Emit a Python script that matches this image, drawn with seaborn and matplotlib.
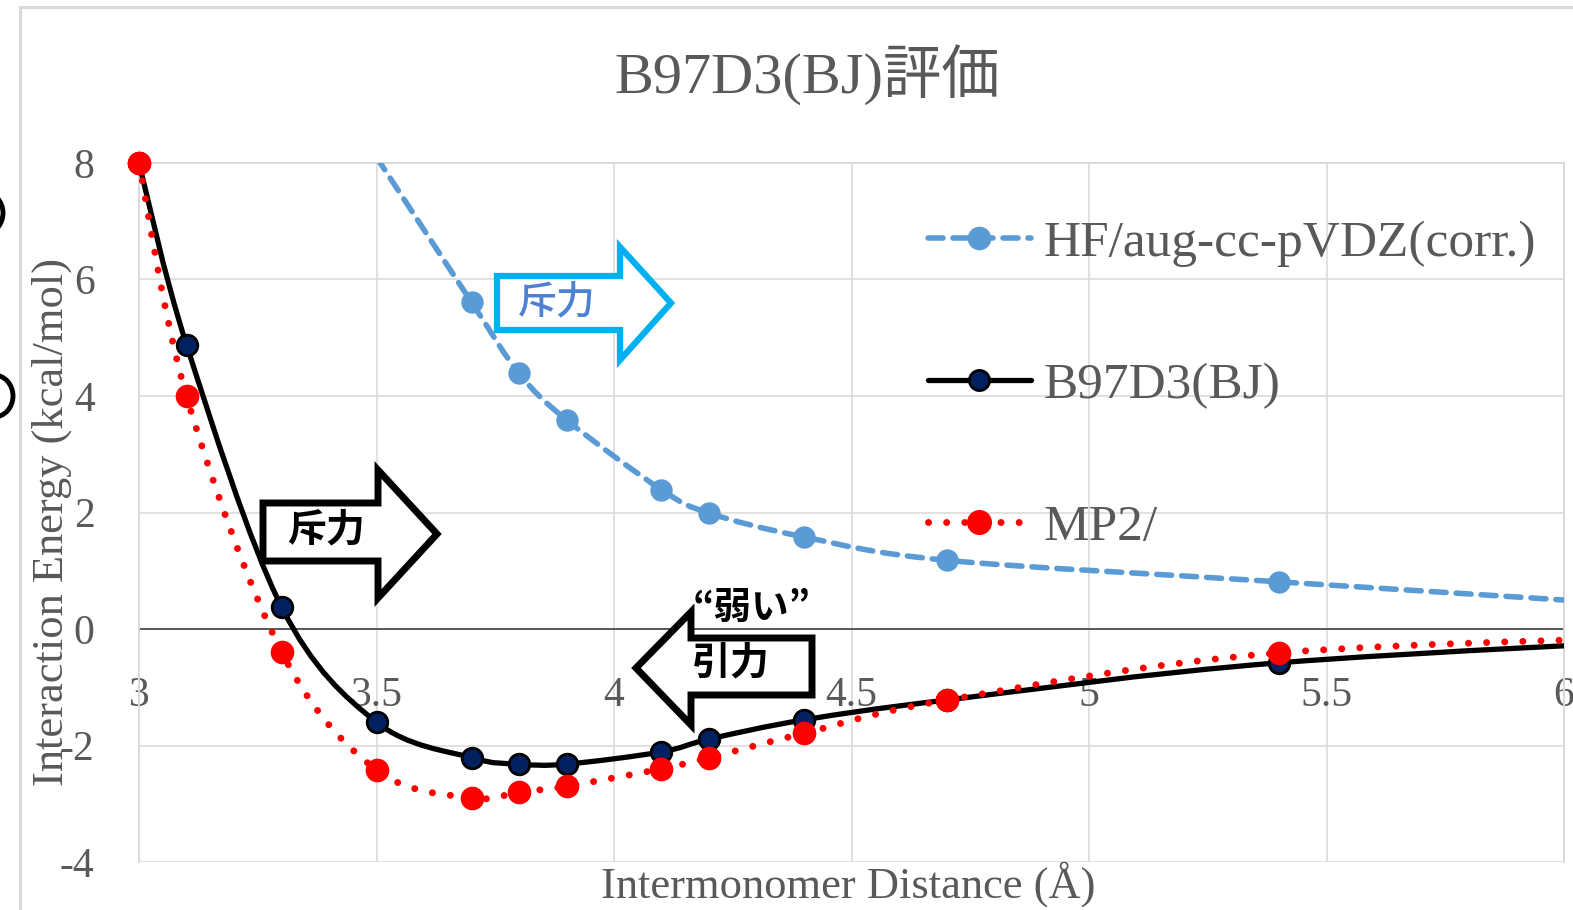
import numpy as np
import pandas as pd
import matplotlib
matplotlib.use("Agg")
import matplotlib.pyplot as plt
from matplotlib.path import Path
from matplotlib.patches import PathPatch, Polygon, Rectangle, Ellipse
from matplotlib.lines import Line2D
from matplotlib.ticker import FuncFormatter
import seaborn as sns

# ---- data -------------------------------------------------------------
title = "B97D3(BJ)評価"
x_label = "Intermonomer Distance (Å)"
y_label = "Interaction Energy (kcal/mol)"
series_names = ["HF/aug-cc-pVDZ(corr.)", "B97D3(BJ)", "MP2/"]

distance_hf = [3.5, 3.7, 3.8, 3.9, 4.1, 4.2, 4.4, 4.7, 5.4, 6.4]
energy_hf = [8.1, 5.61, 4.39, 3.59, 2.39, 1.99, 1.58, 1.18, 0.81, 0.29]

distance = [3.0, 3.1, 3.3, 3.5, 3.7, 3.8, 3.9, 4.1, 4.2, 4.4, 4.7, 5.4, 6.4]
energy_b97d3 = [8.0, 4.88, 0.38, -1.60, -2.21, -2.32, -2.32, -2.11, -1.89, -1.56, -1.22, -0.58, -0.12]
energy_mp2 = [8.0, 4.0, -0.39, -2.42, -2.90, -2.80, -2.70, -2.40, -2.21, -1.79, -1.22, -0.41, -0.10]

x_ticks = [3.0, 3.5, 4.0, 4.5, 5.0, 5.5, 6.0]
y_ticks = [-4, -2, 0, 2, 4, 6, 8]

# ---- style ------------------------------------------------------------
W, H = 1573, 910
sns.set_theme(style="whitegrid")
plt.rcParams["font.family"] = ["Liberation Serif", "Noto Sans CJK JP"]
plt.rcParams["axes.unicode_minus"] = False

TEXT = "#595959"
GRID = "#d9d9d9"
BLUE = "#5B9BD5"
NAVY = "#002060"
RED = "#FF0000"

fig = plt.figure(figsize=(W / 100, H / 100), dpi=100)
fig.patch.set_facecolor("white")

def px(x, y):
    """pixel position -> figure fraction"""
    return (x / W, 1 - y / H)

ax_l, ax_r, ax_t, ax_b = 139, 1564, 163, 862
ax = fig.add_axes([ax_l / W, 1 - ax_b / H, (ax_r - ax_l) / W, (ax_b - ax_t) / H])
ax.set_facecolor("white")
ax.set_xlim(3, 6)
ax.set_ylim(-4, 8)
ax.set_xticks(x_ticks)
ax.set_yticks(y_ticks)
fmt = FuncFormatter(lambda v, p: f"{v:g}")
ax.xaxis.set_major_formatter(fmt)
ax.yaxis.set_major_formatter(fmt)
ax.grid(True, color=GRID, lw=1.1)
ax.set_axisbelow(True)
for s in ("left", "right", "top"):
    ax.spines[s].set_color(GRID)
    ax.spines[s].set_linewidth(1.4)
ax.spines["bottom"].set_position(("data", 0))
ax.spines["bottom"].set_color("#404040")
ax.spines["bottom"].set_linewidth(1.2)
ax.spines["bottom"].set_zorder(1.5)
ax.tick_params(axis="x", length=0, pad=34, labelsize=30, labelcolor=TEXT)
ax.tick_params(axis="y", length=0, pad=32, labelsize=30, labelcolor=TEXT)


def smooth_path(xs, ys):
    """Smoothed polyline through the points as cubic Bezier segments."""
    pts = np.column_stack([xs, ys]).astype(float)
    n = len(pts)
    verts = [pts[0]]
    codes = [Path.MOVETO]
    for i in range(n - 1):
        p0 = pts[i - 1] if i > 0 else pts[i]
        p1, p2 = pts[i], pts[i + 1]
        p3 = pts[i + 2] if i + 2 < n else pts[i + 1]
        verts += [p1 + (p2 - p0) / 6, p2 - (p3 - p1) / 6, p2]
        codes += [Path.CURVE4] * 3
    return Path(verts, codes)


def visible(xs, ys):
    d = pd.DataFrame({"x": xs, "y": ys})
    return d[(d.x >= 3) & (d.x <= 6) & (d.y >= -4) & (d.y <= 8)]


HF_LS = (0, (2.7, 1.8))
MP2_LS = (0, (0.01, 2.6))

# HF (dashed blue)
ax.add_patch(PathPatch(smooth_path(distance_hf, energy_hf), fill=False,
                       edgecolor=BLUE, lw=4.0, linestyle=HF_LS,
                       capstyle="round", joinstyle="round", zorder=3))
d = visible(distance_hf, energy_hf)
sns.scatterplot(data=d, x="x", y="y", ax=ax, s=260, color=BLUE,
                edgecolor=BLUE, linewidth=0, zorder=4, clip_on=False, legend=False)

# B97D3(BJ) (solid black, navy markers)
ax.add_patch(PathPatch(smooth_path(distance, energy_b97d3), fill=False,
                       edgecolor="black", lw=3.8, capstyle="round",
                       joinstyle="round", zorder=5))
d = visible(distance, energy_b97d3)
sns.scatterplot(data=d, x="x", y="y", ax=ax, s=220, color=NAVY,
                edgecolor="black", linewidth=2.0, zorder=6, clip_on=False, legend=False)

# MP2 (dotted red)
ax.add_patch(PathPatch(smooth_path(distance, energy_mp2), fill=False,
                       edgecolor=RED, lw=5.0, linestyle=MP2_LS,
                       capstyle="round", joinstyle="round", zorder=7))
d = visible(distance, energy_mp2)
sns.scatterplot(data=d, x="x", y="y", ax=ax, s=290, color=RED,
                edgecolor=RED, linewidth=0, zorder=8, clip_on=False, legend=False)

ax.set_xlabel(x_label, fontsize=32, color=TEXT, va="center")
ax.xaxis.set_label_coords((848 - ax_l) / (ax_r - ax_l), (ax_b - 885) / (ax_b - ax_t))
ax.set_ylabel(y_label, fontsize=32, color=TEXT, va="center")
ax.yaxis.set_label_coords((52 - ax_l) / (ax_r - ax_l), (ax_b - 522) / (ax_b - ax_t))
ax.set_title(title, fontsize=42, color=TEXT, va="center", pad=0,
             x=(807 - ax_l) / (ax_r - ax_l), y=(ax_b - 75) / (ax_b - ax_t))

# legend
handles = [
    Line2D([], [], color=BLUE, lw=4.0, linestyle=HF_LS, dash_capstyle="round",
           marker="o", markersize=16, markerfacecolor=BLUE, markeredgecolor=BLUE),
    Line2D([], [], color="black", lw=3.8, marker="o", markersize=14.5,
           markerfacecolor=NAVY, markeredgecolor="black", markeredgewidth=2.0),
    Line2D([], [], color=RED, lw=5.0, linestyle=MP2_LS, dash_capstyle="round",
           marker="o", markersize=17, markerfacecolor=RED, markeredgecolor=RED),
]
leg = ax.legend(handles, series_names, loc="upper left",
                bbox_to_anchor=px(928, 220), bbox_transform=fig.transFigure,
                frameon=False, fontsize=37, handlelength=2.0, handletextpad=0.25,
                labelspacing=1.85, borderpad=0, borderaxespad=0, labelcolor=TEXT)
leg.set_zorder(9)

# block arrows with labels
def block_arrow(points, color, lw):
    poly = Polygon([px(x, y) for x, y in points], closed=True, transform=fig.transFigure,
                   facecolor="white", edgecolor=color, lw=lw, joinstyle="miter",
                   zorder=10, clip_on=False)
    fig.add_artist(poly)

block_arrow([(263, 503), (378, 503), (378, 470), (437, 534), (378, 598),
             (378, 561), (263, 561)], "black", 5)
fig.text(*px(326, 530), "斥力", family=["Noto Sans CJK JP"], weight="bold",
         fontsize=28, color="black", ha="center", va="center", zorder=11)

block_arrow([(497, 276), (620, 276), (620, 247), (671, 303), (620, 360),
             (620, 330), (497, 330)], "#00B0F0", 4.5)
fig.text(*px(557, 302), "斥力", family=["Noto Sans CJK JP"], weight="medium",
         fontsize=28, color="#4F81D3", ha="center", va="center", zorder=11)

block_arrow([(812, 638), (691, 638), (691, 612), (636, 668), (691, 725),
             (691, 695), (812, 695)], "black", 5)
fig.text(*px(731, 663), "引力", family=["Noto Sans CJK JP"], weight="bold",
         fontsize=28, color="black", ha="center", va="center", zorder=11)
fig.text(*px(752, 607), "“弱い”", family=["Noto Sans CJK JP"], weight="bold",
         fontsize=27, color="black", ha="center", va="center", zorder=11)

# chart frame and cut-off shapes at the left edge
fig.add_artist(Rectangle(px(20, 1000), 2, (1000 - 7) / H, transform=fig.transFigure,
                         fill=False, edgecolor=GRID, lw=2.2, clip_on=False))
for cx, cy in [(-6, 396), (-16, 213)]:
    fig.add_artist(Ellipse(px(cx, cy), 38 / W, 42 / H, transform=fig.transFigure,
                           fill=False, edgecolor="black", lw=3.5))

fig.savefig("out.png", dpi=100, facecolor="white")
